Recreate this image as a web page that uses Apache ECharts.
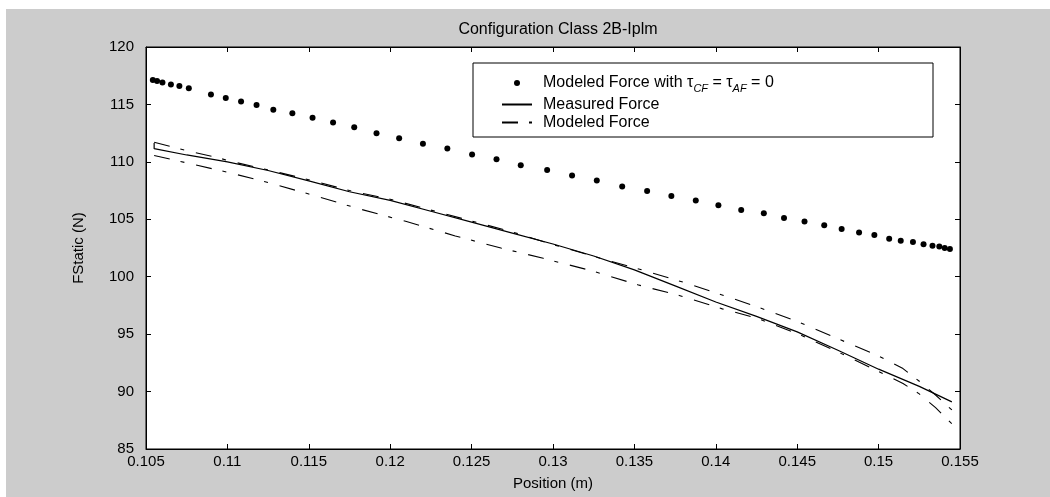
<!DOCTYPE html>
<html>
<head>
<meta charset="utf-8">
<script src="https://cdn.jsdelivr.net/npm/echarts@6/dist/echarts.min.js"></script>
<style>
  html, body { margin: 0; padding: 0; background: #ffffff; }
  #bg { position: absolute; left: 6px; top: 9px; width: 1044px; height: 488px; background: #cccccc; }
  #chart { position: absolute; left: 0; top: 0; width: 1050px; height: 497px; }
</style>
</head>
<body>
<div id="bg"></div>
<div id="chart"></div>
<script>
// ---------- data ----------
const titleText = 'Configuration Class 2B-Iplm';
const xName = 'Position (m)';
const yName = 'FStatic (N)';
const xTickLabels = ['0.105','0.11','0.115','0.12','0.125','0.13','0.135','0.14','0.145','0.15','0.155'];
const yTickLabels = ['85','90','95','100','105','110','115','120'];
const seriesNames = ['Modeled Force with τCF = τAF = 0', 'Measured Force', 'Modeled Force'];

// Modeled force with tau = 0 (dots)
const dotsX = [0.10542,0.10568,0.10601,0.10653,0.10705,0.10763,0.10899,0.10990,0.11084,0.11179,
               0.11282,0.11399,0.11523,0.11649,0.11779,0.11916,0.12055,0.12201,0.12351,0.12503,
               0.12653,0.12802,0.12964,0.13117,0.13269,0.13425,0.13578,0.13727,0.13877,0.14016,
               0.14156,0.14295,0.14419,0.14545,0.14666,0.14773,0.14880,0.14974,0.15065,0.15136,
               0.15211,0.15276,0.15331,0.15373,0.15406,0.15438];
const dotsY = [117.12,117.03,116.92,116.74,116.60,116.40,115.87,115.55,115.26,114.94,
               114.53,114.24,113.84,113.43,113.02,112.50,112.06,111.57,111.16,110.64,
               110.23,109.71,109.30,108.81,108.37,107.85,107.47,107.03,106.63,106.22,
               105.81,105.52,105.12,104.80,104.48,104.16,103.84,103.63,103.31,103.14,
               103.02,102.82,102.70,102.62,102.50,102.41];

// Measured force (solid)
const measX = [0.1055,0.1055,0.1075,0.1100,0.1125,0.1150,0.1175,0.1200,0.1225,0.1250,0.1275,
               0.1300,0.1325,0.1350,0.1375,0.1400,0.1425,0.1450,0.1475,0.1500,0.1525,0.1545];
const measY = [111.65,111.15,110.6,110.0,109.25,108.35,107.4,106.65,105.7,104.75,103.8,
               102.85,101.8,100.6,99.2,97.8,96.55,95.2,93.6,91.95,90.45,89.1];

// Modeled force, upper curve (dash-dot)
const modAX = [0.1055,0.1065,0.1077,0.1093,0.1105,0.1125,0.1150,0.1175,0.1200,0.1225,0.1250,
               0.1275,0.1300,0.1328,0.1357,0.1384,0.1400,0.1425,0.1450,0.1475,0.1500,0.1515,
               0.1525,0.1535,0.1545];
const modAY = [111.7,111.35,110.9,110.4,109.95,109.3,108.45,107.5,106.75,105.8,104.85,
               103.9,102.8,101.65,100.5,99.35,98.6,97.4,96.1,94.6,93.1,92.0,
               90.9,89.7,88.4];

// Modeled force, lower curve (dash-dot)
const modBX = [0.1055,0.1080,0.1100,0.1125,0.1150,0.1180,0.1210,0.1240,0.1268,0.1294,0.1323,
               0.1352,0.1378,0.1404,0.1425,0.1450,0.1475,0.1500,0.1515,0.1525,0.1535,0.1545];
const modBY = [110.55,109.75,109.1,108.2,107.2,105.95,104.8,103.55,102.5,101.6,100.55,
               99.3,98.35,97.2,96.4,95.05,93.45,91.75,90.7,89.8,88.6,87.2];

// ---------- chart ----------
const zip = (xs, ys) => xs.map((x, i) => [x, ys[i]]);
const FONT = '"Liberation Sans", Arial, sans-serif';
const X_MIN = 0.105, X_MAX = 0.155, X_INT = 0.005;
const Y_MIN = 85, Y_MAX = 120, Y_INT = 5;
const dashDot = [16, 11, 4, 12];

const axisLineStyle = { show: true, lineStyle: { color: '#000', width: 1 } };
const tickStyle = { show: true, inside: true, length: 5, lineStyle: { color: '#000', width: 1 } };

const chart = echarts.init(document.getElementById('chart'), null, { renderer: 'canvas' });
chart.setOption({
  animation: false,
  backgroundColor: 'transparent',
  textStyle: { fontFamily: FONT },
  title: {
    text: titleText, left: 553, top: 17, textAlign: 'center',
    textStyle: { fontFamily: FONT, fontSize: 16, fontWeight: 'normal', color: '#000' }
  },
  grid: {
    left: 146, right: 90, top: 47, bottom: 48,
    show: true, backgroundColor: '#ffffff', borderColor: '#000', borderWidth: 1
  },
  graphic: [{
    type: 'rect', z: 3,
    shape: { x: 473, y: 63, width: 460, height: 74 },
    style: { fill: '#ffffff', stroke: '#000', lineWidth: 1 }
  }],
  legend: {
    orient: 'vertical', left: 501, top: 75, padding: 0,
    itemWidth: 30, itemHeight: 6, itemGap: 2,
    selectedMode: false,
    data: [
      { name: seriesNames[0] },
      { name: seriesNames[1], itemStyle: { opacity: 0 } },
      { name: seriesNames[2], itemStyle: { opacity: 0 } }
    ],
    textStyle: {
      fontFamily: FONT, fontSize: 16, color: '#000', padding: [0, 0, 0, 6],
      rich: {
        n: { fontFamily: FONT, fontSize: 16, color: '#000' },
        sub: { fontFamily: FONT, fontSize: 11, fontStyle: 'italic', color: '#000', verticalAlign: 'bottom', lineHeight: 23 }
      }
    },
    formatter: function (name) {
      if (name === seriesNames[0]) {
        return '{n|Modeled Force with τ}{sub|CF}{n| = τ}{sub|AF}{n| = 0}';
      }
      return name;
    }
  },
  xAxis: [{
    type: 'value', min: X_MIN, max: X_MAX, interval: X_INT, position: 'bottom',
    axisLine: axisLineStyle, axisTick: tickStyle, splitLine: { show: false },
    axisLabel: {
      color: '#000', fontFamily: FONT, fontSize: 15, margin: 5,
      formatter: v => xTickLabels[Math.round((v - X_MIN) / X_INT)]
    },
    name: xName, nameLocation: 'middle', nameGap: 27,
    nameTextStyle: { color: '#000', fontFamily: FONT, fontSize: 15 }
  }, {
    type: 'value', min: X_MIN, max: X_MAX, interval: X_INT, position: 'top',
    axisLine: axisLineStyle, axisTick: tickStyle, splitLine: { show: false },
    axisLabel: { show: false }
  }],
  yAxis: [{
    type: 'value', min: Y_MIN, max: Y_MAX, interval: Y_INT, position: 'left',
    axisLine: axisLineStyle, axisTick: tickStyle, splitLine: { show: false },
    axisLabel: {
      color: '#000', fontFamily: FONT, fontSize: 15, margin: 12,
      formatter: v => yTickLabels[Math.round((v - Y_MIN) / Y_INT)]
    },
    name: yName, nameLocation: 'middle', nameGap: 60, nameRotate: 90,
    nameTextStyle: { color: '#000', fontFamily: FONT, fontSize: 15 }
  }, {
    type: 'value', min: Y_MIN, max: Y_MAX, interval: Y_INT, position: 'right',
    axisLine: axisLineStyle, axisTick: tickStyle, splitLine: { show: false },
    axisLabel: { show: false }
  }],
  series: [{
    name: seriesNames[0], type: 'scatter', data: zip(dotsX, dotsY),
    symbol: 'circle', symbolSize: 6, itemStyle: { color: '#000', opacity: 1 }, z: 2
  }, {
    name: seriesNames[1], type: 'line', data: zip(measX, measY),
    symbol: 'none', lineStyle: { color: '#000', width: 1.2, type: 'solid' }, itemStyle: { color: '#000' }
  }, {
    name: seriesNames[2], type: 'line', data: zip(modAX, modAY),
    symbol: 'none', lineStyle: { color: '#000', width: 1.1, type: dashDot }, itemStyle: { color: '#000' }
  }, {
    name: seriesNames[2], type: 'line', data: zip(modBX, modBY),
    symbol: 'none', lineStyle: { color: '#000', width: 1.1, type: dashDot }, itemStyle: { color: '#000' }
  }]
});
</script>
</body>
</html>
